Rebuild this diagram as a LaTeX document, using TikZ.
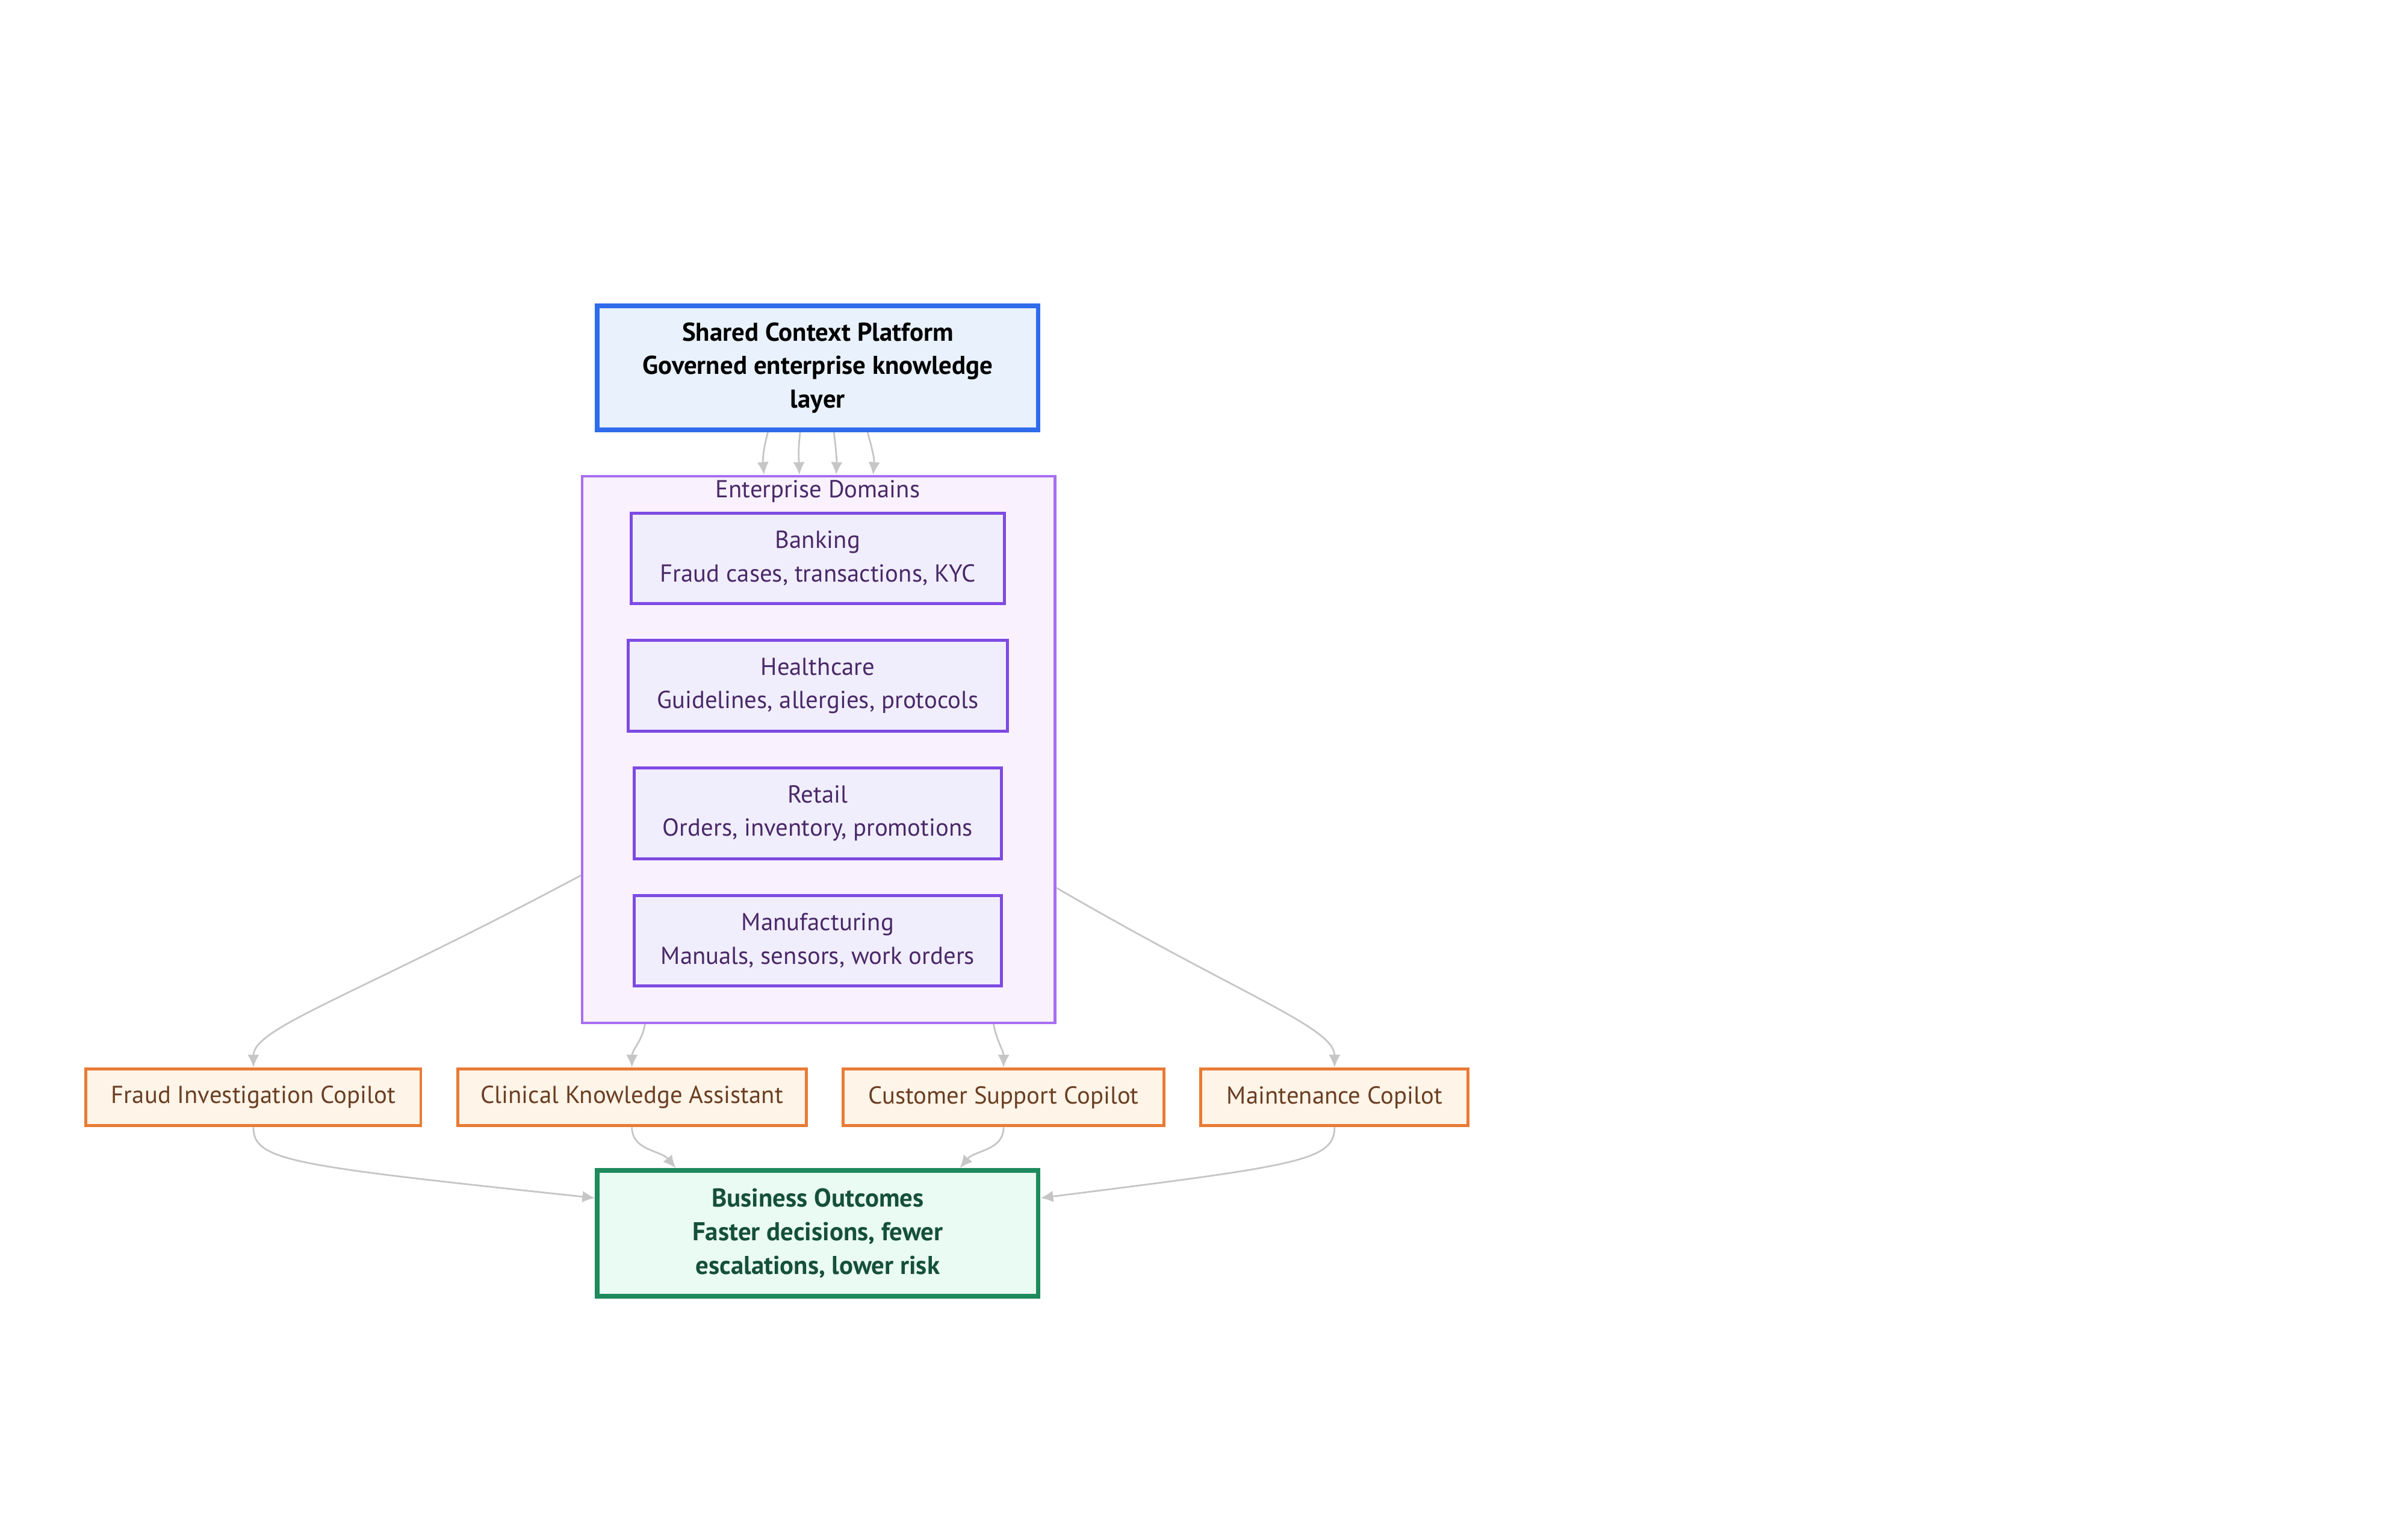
\documentclass[tikz,border=0pt]{standalone}
\usepackage{fontspec}
\setmainfont{PT Sans}
\usetikzlibrary{arrows.meta,calc}

\definecolor{platformfill}{HTML}{E8F1FC}
\definecolor{platformline}{HTML}{2F6BEB}
\definecolor{groupfill}{HTML}{F9F2FE}
\definecolor{groupline}{HTML}{A86EF2}
\definecolor{domainfill}{HTML}{F0EEFD}
\definecolor{domainline}{HTML}{7E4AE3}
\definecolor{domaintext}{HTML}{4A2868}
\definecolor{copilotfill}{HTML}{FFF4E8}
\definecolor{copilotline}{HTML}{E87B35}
\definecolor{copilottext}{HTML}{6A3E22}
\definecolor{outcomefill}{HTML}{EAFBF3}
\definecolor{outcomeline}{HTML}{1E8A5E}
\definecolor{outcometext}{HTML}{15503A}
\definecolor{edgegray}{HTML}{C6C6C6}

\tikzset{
  >={Latex[length=6pt,width=5.5pt]},
  box/.style={draw,rectangle,inner sep=0pt,align=center,
    font=\fontsize{11.6}{15.9}\selectfont},
  platformbox/.style={box,fill=platformfill,draw=platformline,line width=2.2pt,
    font=\fontsize{12.2}{15.9}\selectfont\bfseries},
  domainbox/.style={box,fill=domainfill,draw=domainline,line width=1.4pt,text=domaintext,
    minimum height=59*0.02551cm},
  copilotbox/.style={box,fill=copilotfill,draw=copilotline,line width=1.4pt,text=copilottext,
    minimum height=37*0.02551cm},
  outcomebox/.style={box,fill=outcomefill,draw=outcomeline,line width=2.2pt,text=outcometext,
    font=\fontsize{12.2}{15.9}\selectfont\bfseries},
  flow/.style={draw=edgegray,line width=0.8pt,->}
}

\begin{document}
\begin{tikzpicture}[x=0.02551cm,y=-0.02551cm]
  \useasboundingbox (0,0) rectangle (1568,985);

  % Platform
  \node[platformbox,minimum width=287*0.02551cm,minimum height=81*0.02551cm] (platform) at (532.5,239.5)
    {Shared Context Platform\\Governed enterprise knowledge\\layer};

  % Domains group
  \node[box,fill=groupfill,draw=groupline,line width=1.2pt,
    minimum width=308*0.02551cm,minimum height=356*0.02551cm] (domains) at (533,488) {};
  \node[text=domaintext,font=\fontsize{11.6}{15.9}\selectfont] (domainsTitle) at (532.5,320) {Enterprise Domains};

  \node[domainbox,minimum width=243*0.02551cm] (banking) at (532.5,363.5) {Banking\\Fraud cases, transactions, KYC};
  \node[domainbox,minimum width=247*0.02551cm] (health) at (532.5,446.5) {Healthcare\\Guidelines, allergies, protocols};
  \node[domainbox,minimum width=239*0.02551cm] (retail) at (532.5,529.5) {Retail\\Orders, inventory, promotions};
  \node[domainbox,minimum width=239*0.02551cm] (manuf) at (532.5,612.5) {Manufacturing\\Manuals, sensors, work orders};

  % Copilots
  \node[copilotbox,minimum width=218*0.02551cm] (fraud) at (165,714.5) {Fraud Investigation Copilot};
  \node[copilotbox,minimum width=227*0.02551cm] (clinical) at (411.5,714.5) {Clinical Knowledge Assistant};
  \node[copilotbox,minimum width=209*0.02551cm] (support) at (653.5,714.5) {Customer Support Copilot};
  \node[copilotbox,minimum width=174*0.02551cm] (maint) at (869,714.5) {Maintenance Copilot};

  % Outcomes
  \node[outcomebox,minimum width=287*0.02551cm,minimum height=82*0.02551cm] (outcome) at (532.5,803)
    {Business Outcomes\\Faster decisions, fewer\\escalations, lower risk};

  % Platform to domains
  \draw[flow] ($(platform.south)+(-32.5,0)$) to[out=-105,in=95] ($(domains.north)+(-35.5,0)$);
  \draw[flow] ($(platform.south)+(-11.5,0)$) to[out=-97,in=92] ($(domains.north)+(-12.5,0)$);
  \draw[flow] ($(platform.south)+(10.5,0)$) to[out=-83,in=88] ($(domains.north)+(11.5,0)$);
  \draw[flow] ($(platform.south)+(32.5,0)$) to[out=-75,in=85] ($(domains.north)+(35.5,0)$);

  % Domains to copilots
  \draw[flow] ($(domains.west)+(0,82)$) .. controls ($(fraud.north)+(65,-46)$) and ($(fraud.north)+(0,-26)$) .. (fraud.north);
  \draw[flow] ($(domains.south)+(-113,0)$) to[out=-100,in=90] (clinical.north);
  \draw[flow] ($(domains.south)+(114,0)$) to[out=-80,in=90] (support.north);
  \draw[flow] ($(domains.east)+(0,90)$) .. controls ($(maint.north)+(-59,-46)$) and ($(maint.north)+(0,-26)$) .. (maint.north);

  % Copilots to outcomes
  \draw[flow] (fraud.south) .. controls ($(fraud.south)+(0,22)$) and ($(fraud.south)+(25,25)$) .. ($(outcome.west)+(0,-23)$);
  \draw[flow] (clinical.south) to[out=-90,in=130] ($(outcome.north)+(-92.5,0)$);
  \draw[flow] (support.south) to[out=-90,in=50] ($(outcome.north)+(92.5,0)$);
  \draw[flow] (maint.south) .. controls ($(maint.south)+(0,22)$) and ($(maint.south)+(-25,25)$) .. ($(outcome.east)+(0,-23)$);
\end{tikzpicture}
\end{document}
